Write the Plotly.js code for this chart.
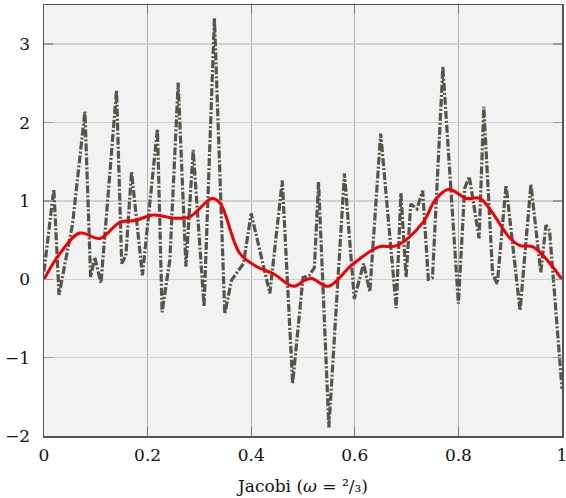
<!DOCTYPE html>
<html>
<head>
<meta charset="utf-8">
<script src="https://cdn.plot.ly/plotly-3.0.1.min.js"></script>
<style>html,body{margin:0;padding:0;background:#fff;}#chart{width:566px;height:498px;}</style>
</head>
<body>
<div id="chart"></div>
<script>
// Noisy signal (gray dash-dot)
var noisyX = [0.000, 0.019, 0.029, 0.055, 0.079, 0.090, 0.098, 0.110, 0.140, 0.150, 0.158, 0.169, 0.190, 0.219, 0.228, 0.243, 0.259, 0.274, 0.288, 0.309, 0.329, 0.349, 0.362, 0.385, 0.400, 0.436, 0.460, 0.480, 0.500, 0.512, 0.522, 0.530, 0.550, 0.580, 0.599, 0.617, 0.629, 0.650, 0.680, 0.689, 0.699, 0.708, 0.720, 0.731, 0.742, 0.750, 0.770, 0.800, 0.812, 0.821, 0.840, 0.849, 0.866, 0.875, 0.892, 0.919, 0.940, 0.959, 0.969, 0.976, 1.000];
var noisyY = [0.10, 1.15, -0.20, 0.70, 2.14, 0.03, 0.28, -0.05, 2.41, 0.20, 0.30, 1.37, 0.05, 1.92, -0.42, 0.25, 2.51, 0.16, 1.65, -0.35, 3.33, -0.44, -0.01, 0.20, 0.84, -0.18, 1.26, -1.33, 0.02, 0.05, 0.15, 1.24, -1.89, 1.35, -0.25, 0.20, -0.16, 1.86, -0.37, 1.10, 0.03, 0.96, 0.90, 1.13, 0.00, 0.02, 2.71, -0.31, 1.16, 1.31, 0.52, 2.20, 0.07, -0.06, 1.20, -0.40, 1.21, 0.09, 0.69, 0.62, -1.40];
// Smoothed signal (red)
var smoothX = [0.000, 0.031, 0.069, 0.108, 0.147, 0.176, 0.211, 0.253, 0.282, 0.324, 0.340, 0.378, 0.411, 0.443, 0.481, 0.504, 0.517, 0.549, 0.594, 0.645, 0.681, 0.732, 0.755, 0.781, 0.816, 0.842, 0.900, 0.919, 0.945, 1.000];
var smoothY = [0.00, 0.33, 0.59, 0.52, 0.73, 0.75, 0.82, 0.78, 0.80, 1.03, 0.97, 0.33, 0.16, 0.07, -0.09, -0.01, 0.01, -0.09, 0.18, 0.41, 0.43, 0.73, 1.01, 1.15, 1.03, 1.03, 0.52, 0.43, 0.41, 0.00];
var xTicks = [0, 0.2, 0.4, 0.6, 0.8, 1];
var yTicks = [-2, -1, 0, 1, 2, 3];

var font = {family: "DejaVu Serif, serif", size: 17, color: "#111"};

var traces = [
  {x: noisyX, y: noisyY, type: "scatter", mode: "lines",
   line: {color: "#55554b", width: 3.2, dash: "8px,2px,2px,2px"}, hoverinfo: "skip"},
  {x: smoothX, y: smoothY, type: "scatter", mode: "lines",
   line: {color: "#f00000", width: 3, shape: "spline", smoothing: 1}, hoverinfo: "skip"}
];

var layout = {
  width: 566, height: 498,
  margin: {l: 44, r: 4, t: 5, b: 62},
  paper_bgcolor: "#ffffff",
  plot_bgcolor: "#f2f2f2",
  showlegend: false,
  font: font,
  xaxis: {
    range: [0, 1], tickvals: xTicks, ticktext: xTicks.map(String),
    showgrid: true, gridcolor: "#b0b0b0", gridwidth: 1,
    zeroline: false, showline: true, linecolor: "#555", linewidth: 1.5,
    mirror: "allticks", ticks: "inside", ticklen: 9, tickcolor: "#777", tickwidth: 1,
    tickfont: font, ticklabelstandoff: 3, ticklabeloverflow: "allow",
    title: {text: "Jacobi (<i>ω</i> = ²/₃)", font: font, standoff: 16}
  },
  yaxis: {
    range: [-2, 3.5], tickvals: yTicks,
    showgrid: true, gridcolor: "#d0d0d0", gridwidth: 1.5,
    zeroline: false, showline: true, linecolor: "#555", linewidth: 1.5,
    mirror: "allticks", ticks: "inside", ticklen: 9, tickcolor: "#999", tickwidth: 1.5,
    tickfont: font, ticklabelstandoff: 9, ticklabeloverflow: "allow"
  }
};

Plotly.newPlot("chart", traces, layout, {staticPlot: true, displayModeBar: false});
</script>
</body>
</html>
